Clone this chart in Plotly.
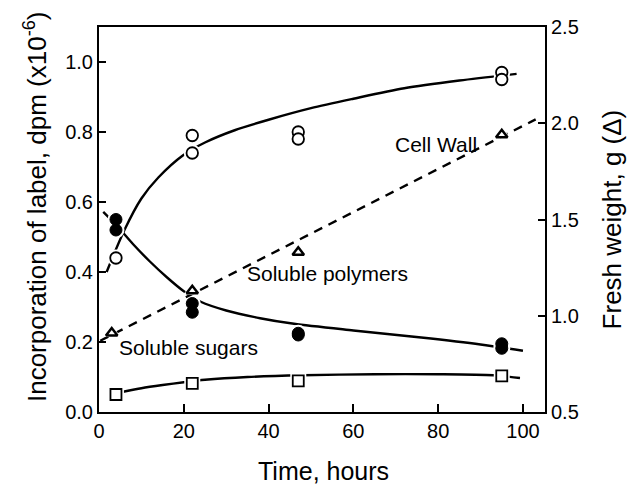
import plotly.graph_objects as go

# Measured incorporation of label (dpm x 10^-6) at each sampling time (hours)
t_cell_wall = [4, 22, 22, 47, 47, 95, 95]
cell_wall = [0.44, 0.79, 0.74, 0.80, 0.78, 0.97, 0.95]

t_sugars = [4, 4, 22, 22, 47, 47, 95, 95]
soluble_sugars = [0.55, 0.52, 0.31, 0.285, 0.225, 0.22, 0.195, 0.182]

t_polymers = [4, 22, 47, 95]
soluble_polymers = [0.05, 0.082, 0.089, 0.103]

# Fresh weight (g), right-hand axis
t_fresh = [3, 22, 47, 95]
fresh_weight = [0.91, 1.13, 1.33, 1.94]

# Smoothed fitted curves through each series
cw_fit_t = [1.8, 6, 10, 14, 20, 25, 32, 40, 50, 60, 72, 85, 98.5]
cw_fit = [0.40, 0.52, 0.61, 0.67, 0.735, 0.77, 0.805, 0.835, 0.868, 0.895, 0.925, 0.947, 0.966]

sug_fit_t = [1, 4, 8, 12, 16, 20, 24, 30, 38, 46, 60, 76, 90, 100]
sug_fit = [0.572, 0.535, 0.48, 0.43, 0.385, 0.345, 0.315, 0.29, 0.268, 0.252, 0.233, 0.213, 0.193, 0.175]

pol_fit_t = [5.7, 10, 15, 20, 25, 35, 48, 65, 80, 93, 99.3]
pol_fit = [0.058, 0.068, 0.077, 0.085, 0.092, 0.100, 0.105, 0.108, 0.108, 0.105, 0.097]

fw_fit_t = [0.3, 103]
fw_fit = [0.87, 2.02]

x_ticks = [0, 20, 40, 60, 80, 100]
y_ticks = [0.0, 0.2, 0.4, 0.6, 0.8, 1.0]
y2_ticks = [0.5, 1.0, 1.5, 2.0, 2.5]

FONT = "Liberation Sans, Arial, Helvetica, sans-serif"
INK = "black"

fig = go.Figure()

# fitted curves
for xs, ys in [(cw_fit_t, cw_fit), (sug_fit_t, sug_fit), (pol_fit_t, pol_fit)]:
    fig.add_trace(go.Scatter(x=xs, y=ys, mode="lines",
                             line=dict(color=INK, width=2.4, shape="spline", smoothing=0.8),
                             hoverinfo="skip", showlegend=False))
fig.add_trace(go.Scatter(x=fw_fit_t, y=fw_fit, mode="lines", yaxis="y2",
                         line=dict(color=INK, width=2.4, dash="9px,7px"),
                         hoverinfo="skip", showlegend=False))

# white halos that open small gaps in the lines around each marker
halo = dict(color="white", line=dict(width=0))
fig.add_trace(go.Scatter(x=t_cell_wall, y=cell_wall, mode="markers",
                         marker=dict(symbol="circle", size=17, **halo),
                         hoverinfo="skip", showlegend=False))
fig.add_trace(go.Scatter(x=t_sugars, y=soluble_sugars, mode="markers",
                         marker=dict(symbol="circle", size=17, **halo),
                         hoverinfo="skip", showlegend=False))
fig.add_trace(go.Scatter(x=t_polymers, y=soluble_polymers, mode="markers",
                         marker=dict(symbol="square", size=16, **halo),
                         hoverinfo="skip", showlegend=False))

# data markers
fig.add_trace(go.Scatter(x=t_cell_wall, y=cell_wall, mode="markers", name="Cell Wall",
                         marker=dict(symbol="circle", size=11.5, color="white",
                                     line=dict(color=INK, width=1.8)), showlegend=False))
fig.add_trace(go.Scatter(x=t_sugars, y=soluble_sugars, mode="markers", name="Soluble sugars",
                         marker=dict(symbol="circle", size=12, color=INK,
                                     line=dict(color=INK, width=1)), showlegend=False))
fig.add_trace(go.Scatter(x=t_polymers, y=soluble_polymers, mode="markers", name="Soluble polymers",
                         marker=dict(symbol="square", size=11, color="white",
                                     line=dict(color=INK, width=1.8)), showlegend=False))

fig.add_trace(go.Scatter(x=t_fresh, y=fresh_weight, mode="markers", yaxis="y2",
                         marker=dict(symbol="triangle-up", size=16, **halo),
                         hoverinfo="skip", showlegend=False))
fig.add_trace(go.Scatter(x=t_fresh, y=fresh_weight, mode="markers", yaxis="y2", name="Fresh weight",
                         marker=dict(symbol="triangle-up", size=10, color="white",
                                     line=dict(color=INK, width=2.5)), showlegend=False))

tick_font = dict(family=FONT, size=20, color=INK)
label_font = dict(family=FONT, size=21, color=INK)
title_font = dict(family=FONT, size=26, color=INK)

annotations = [
    dict(x=79.6, y=0.763, xref="x", yref="y", text="Cell Wall", showarrow=False,
         font=label_font, xanchor="center", yanchor="middle"),
    dict(x=53.8, y=0.397, xref="x", yref="y", text="Soluble polymers", showarrow=False,
         font=label_font, xanchor="center", yanchor="middle"),
    dict(x=21.2, y=0.185, xref="x", yref="y", text="Soluble sugars", showarrow=False,
         font=label_font, xanchor="center", yanchor="middle"),
    dict(x=0.504, y=-0.153, xref="paper", yref="paper", text="Time, hours", showarrow=False,
         font=dict(family=FONT, size=25, color=INK), xanchor="center", yanchor="middle"),
    dict(x=-0.1435, y=0.535, xref="paper", yref="paper",
         text="Incorporation of label, dpm (x10<sup>-6</sup>)", textangle=-90,
         showarrow=False, font=title_font, xanchor="center", yanchor="middle"),
    dict(x=1.15, y=0.5, xref="paper", yref="paper", text="Fresh weight, g (Δ)",
         textangle=-90, showarrow=False, font=title_font, xanchor="center", yanchor="middle"),
]

fig.update_layout(
    width=639, height=488,
    margin=dict(l=99, r=94, t=27, b=76),
    paper_bgcolor="white", plot_bgcolor="white",
    showlegend=False,
    xaxis=dict(range=[0, 105.2], tickvals=x_ticks, ticks="inside", ticklen=8, tickwidth=2,
               tickcolor=INK, showline=True, linecolor=INK, linewidth=2, mirror=True,
               showgrid=False, zeroline=False, tickfont=tick_font),
    yaxis=dict(range=[0, 1.1], tickvals=y_ticks, tickformat=".1f", ticks="inside", ticklen=7,
               tickwidth=2, tickcolor=INK, showline=True, linecolor=INK, linewidth=2,
               showgrid=False, zeroline=False, tickfont=tick_font),
    yaxis2=dict(range=[0.5, 2.5], tickvals=y2_ticks, tickformat=".1f", overlaying="y",
                side="right", ticks="inside", ticklen=7, tickwidth=2, tickcolor=INK,
                showline=True, linecolor=INK, linewidth=2, showgrid=False, zeroline=False,
                tickfont=tick_font),
    annotations=annotations,
)

fig.write_html("out.html")
